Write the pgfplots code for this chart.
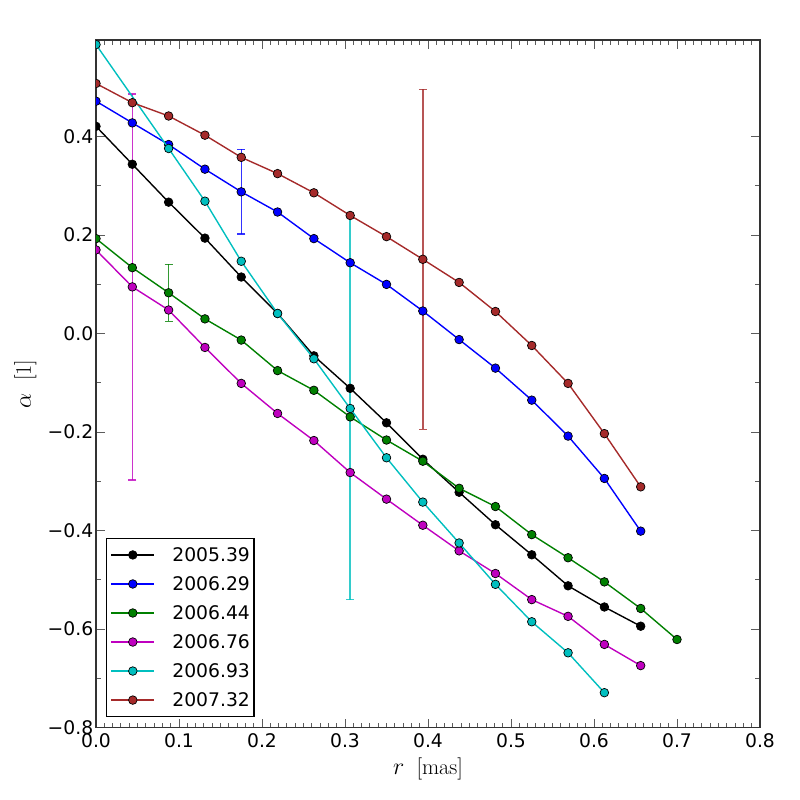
\documentclass[border=0pt]{standalone}
\usepackage{pgfplots}
\pgfplotsset{compat=1.18}
\usepackage{fontspec}
\newfontfamily\dejavu{DejaVu Sans}
\definecolor{mblue}{rgb}{0,0,1}
\definecolor{mgreen}{rgb}{0,0.5,0}
\definecolor{mmag}{rgb}{0.75,0,0.75}
\definecolor{mcyan}{rgb}{0,0.75,0.75}
\definecolor{mbrown}{rgb}{0.647,0.165,0.165}
\definecolor{frame}{rgb}{0.2,0.2,0.2}
\pgfplotsset{
  ebar/.style={forget plot, mark=none, line width=1pt, color=#1,
    error bars/.cd, y dir=both, y explicit,
    error bar style={line width=1pt, color=#1, opacity=0.8},
    error mark options={rotate=90, mark size=2.9pt, line width=1pt, color=#1, opacity=0.8}},
  ser/.style={color=#1, mark=*, mark options={fill=#1, draw=black, line width=0.5pt}},
}
\begin{document}
\begin{tikzpicture}
\begin{axis}[
  name=ax,
  scale only axis,
  width=478.08pt, height=495.1pt,
  xmin=0, xmax=0.8, ymin=-0.8, ymax=0.5963,
  xtick={0,0.1,0.2,0.3,0.4,0.5,0.6,0.7,0.8},
  xticklabels={0.0,0.1,0.2,0.3,0.4,0.5,0.6,0.7,0.8},
  ytick={-0.8,-0.6,-0.4,-0.2,0,0.2,0.4},
  yticklabels={−0.8,−0.6,−0.4,−0.2,0.0,0.2,0.4},
  minor x tick num=9,
  minor y tick num=1,
  tick align=inside,
  tick pos=both,
  major tick length=6.5pt,
  minor tick length=3.6pt,
  every tick/.style={color=frame!80, line width=0.7pt},
  axis line style={color=frame, line width=1pt},
  ticklabel style={font=\dejavu\fontsize{13.5}{16}\selectfont},
  xticklabel style={inner ysep=4.3pt},
  yticklabel style={inner xsep=1.8pt},
  clip marker paths=true,
  xlabel={$r$\hspace{0.55em}[mas]},
  ylabel={$\alpha$\hspace{0.55em}[1]},
  xlabel style={font=\fontsize{16}{19}\selectfont, at={([yshift=-34pt]axis description cs:0.5,0)}, anchor=base},
  ylabel style={font=\fontsize{16}{19}\selectfont, at={([xshift=-46.8pt]axis description cs:0,0.5)}, anchor=base},
  every axis plot/.append style={line width=1pt},
  mark size=3.1pt,
  legend cell align=left,
  legend image code/.code={%
    \draw[mark repeat=2,mark phase=2,#1] plot coordinates {(0pt,0pt) (15.5pt,0pt) (31pt,0pt)};
    \path (0pt,0pt) (43.5pt,0pt);
  },
  legend style={at={(0,0)}, anchor=south west, xshift=7.2pt, yshift=7.7pt,
    draw=black, line width=0.8pt, inner xsep=2.9pt, inner ysep=4.8pt,
    font=\dejavu\fontsize{13.5}{16}\selectfont,
    nodes={inner xsep=0pt, inner ysep=2pt, text height=9.9pt, text depth=0pt},
    row sep=7pt},
]
% error bars
\addplot[ebar=mmag] coordinates {(0.04375,0.095) +- (0,0.392)};
\addplot[ebar=mblue] coordinates {(0.175,0.288) +- (0,0.086)};
\addplot[ebar=mgreen] coordinates {(0.0875,0.083) +- (0,0.058)};
\addplot[ebar=mcyan] coordinates {(0.30625,-0.152) +- (0,0.388)};
\addplot[ebar=mbrown] coordinates {(0.39375,0.151) +- (0,0.345)};
% series
\addplot[ser=black] coordinates {
(0,0.421) (0.04375,0.344) (0.0875,0.267) (0.13125,0.194) (0.175,0.115) (0.21875,0.041)
(0.2625,-0.045) (0.30625,-0.111) (0.35,-0.181) (0.39375,-0.255) (0.4375,-0.322)
(0.48125,-0.388) (0.525,-0.449) (0.56875,-0.512) (0.6125,-0.555) (0.65625,-0.594)};
\addlegendentry{2005.39\hspace{4.3pt}}
\addplot[ser=mblue] coordinates {
(0,0.472) (0.04375,0.428) (0.0875,0.384) (0.13125,0.334) (0.175,0.288) (0.21875,0.247)
(0.2625,0.193) (0.30625,0.144) (0.35,0.100) (0.39375,0.046) (0.4375,-0.012)
(0.48125,-0.070) (0.525,-0.135) (0.56875,-0.208) (0.6125,-0.294) (0.65625,-0.401)};
\addlegendentry{2006.29\hspace{4.3pt}}
\addplot[ser=mgreen] coordinates {
(0,0.193) (0.04375,0.134) (0.0875,0.083) (0.13125,0.030) (0.175,-0.013) (0.21875,-0.075)
(0.2625,-0.115) (0.30625,-0.169) (0.35,-0.216) (0.39375,-0.259) (0.4375,-0.314)
(0.48125,-0.351) (0.525,-0.408) (0.56875,-0.455) (0.6125,-0.504) (0.65625,-0.558) (0.7,-0.621)};
\addlegendentry{2006.44\hspace{4.3pt}}
\addplot[ser=mmag] coordinates {
(0,0.170) (0.04375,0.095) (0.0875,0.048) (0.13125,-0.028) (0.175,-0.101) (0.21875,-0.162)
(0.2625,-0.217) (0.30625,-0.282) (0.35,-0.336) (0.39375,-0.389) (0.4375,-0.441)
(0.48125,-0.487) (0.525,-0.540) (0.56875,-0.574) (0.6125,-0.631) (0.65625,-0.674)};
\addlegendentry{2006.76\hspace{4.3pt}}
\addplot[ser=mcyan] coordinates {
(0,0.587) (0.0875,0.376) (0.13125,0.269) (0.175,0.147) (0.21875,0.041)
(0.2625,-0.051) (0.30625,-0.152) (0.35,-0.252) (0.39375,-0.342) (0.4375,-0.425)
(0.48125,-0.509) (0.525,-0.585) (0.56875,-0.648) (0.6125,-0.729)};
\addlegendentry{2006.93\hspace{4.3pt}}
\addplot[ser=mbrown] coordinates {
(0,0.508) (0.04375,0.469) (0.0875,0.442) (0.13125,0.403) (0.175,0.358) (0.21875,0.325)
(0.2625,0.286) (0.30625,0.240) (0.35,0.197) (0.39375,0.151) (0.4375,0.104)
(0.48125,0.045) (0.525,-0.024) (0.56875,-0.101) (0.6125,-0.203) (0.65625,-0.311)};
\addlegendentry{2007.32\hspace{4.3pt}}
\end{axis}
\pgfresetboundingbox
\path[use as bounding box] ([xshift=-69.12pt,yshift=-52.06pt]ax.south west) rectangle ([xshift=28.8pt,yshift=28.8pt]ax.north east);
\end{tikzpicture}
\end{document}
